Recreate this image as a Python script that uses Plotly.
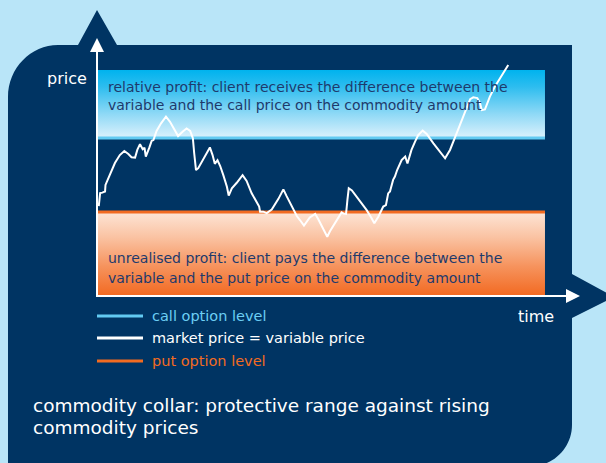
import plotly.graph_objects as go

W, H = 606, 463

# ---------------- data ----------------
time = [0.4, 0.7, 1.2, 1.8, 1.9, 2.9, 4.0, 5.1, 6.1, 7.0, 7.7, 8.5, 9.0, 9.6, 10.2, 10.6, 10.9, 11.7,
        12.2, 12.6, 13.3, 14.3, 15.4, 16.3, 17.4, 18.1, 19.1, 20.0, 20.8, 21.4, 21.7, 22.1, 22.6, 23.7,
        25.2, 25.8, 26.3, 26.9, 27.5, 28.2, 29.0, 29.4, 30.1, 31.2, 32.5, 33.4, 34.5, 35.6, 36.2, 36.4,
        37.1, 37.9, 39.0, 40.5, 41.6, 42.3, 43.5, 44.6, 45.3, 46.2, 47.5, 48.7, 49.4, 50.5, 51.4, 52.0,
        53.1, 53.9, 54.6, 55.0, 55.6, 55.9, 56.2, 56.9, 58.7, 60.2, 61.3, 61.9, 62.8, 63.9, 64.5, 65.0,
        65.4, 66.1, 66.5, 67.0, 68.0, 68.8, 69.3, 70.2, 71.0, 71.7, 72.7, 73.6, 75.1, 76.6, 77.7, 78.8,
        79.9, 81.0, 82.1, 83.3, 84.0, 84.9, 85.5, 85.9, 86.6, 87.7, 88.8, 90.0, 91.1, 91.8]
market_price = [91.6, 95.2, 95.3, 95.6, 97.4, 100.1, 103.4, 105.6, 106.7, 105.9, 105.0, 104.9, 107.0,
                108.6, 107.2, 107.6, 105.2, 107.7, 109.5, 109.7, 112.2, 114.3, 116.1, 114.7, 112.2,
                110.8, 112.0, 112.9, 112.2, 110.2, 106.1, 101.5, 102.0, 104.4, 107.7, 105.6, 103.2,
                104.2, 102.6, 100.1, 96.9, 94.5, 96.5, 98.0, 100.1, 98.5, 95.2, 92.8, 91.5, 90.1, 90.1,
                89.7, 90.7, 93.6, 96.2, 94.4, 91.5, 88.9, 87.8, 86.3, 88.5, 89.5, 88.0, 85.5, 83.2,
                84.7, 86.9, 88.7, 89.9, 89.6, 89.5, 93.3, 96.5, 95.9, 93.0, 90.5, 88.3, 86.9, 88.7,
                91.5, 91.9, 95.1, 95.6, 98.8, 99.7, 101.5, 104.2, 105.2, 103.3, 107.0, 109.3, 111.1,
                112.3, 111.4, 108.8, 106.5, 104.7, 107.0, 110.2, 113.8, 117.2, 120.9, 121.4, 121.2,
                119.8, 117.9, 118.1, 121.6, 124.3, 126.6, 128.9, 130.3]

call_level = 110.3
put_level = 90.0
zone_top = 128.9
price_floor = 67.1
period = [0, 100]

legend_labels = ["call option level", "market price = variable price", "put option level"]
call_zone_text = ["relative profit: client receives the difference between the",
                  "variable and the call price on the commodity amount"]
put_zone_text = ["unrealised profit: client pays the difference between the",
                 "variable and the put price on the commodity amount"]
footer_text = ["commodity collar: protective range against rising", "commodity prices"]
axis_labels = ["price", "time"]

# ---------------- styles ----------------
FONT = "DejaVu Sans"
BG = "#B9E5F8"
NAVY = "#003463"
TEXT_DARK = "#1E3A6C"
CALL_C = "#62CAF2"
PUT_C = "#F26B21"
WHITE = "#FFFFFF"


def pp(x, y):
    return f"{x / W:.5f},{1 - y / H:.5f}"


def path(cmds):
    out = []
    for c in cmds:
        if isinstance(c, str):
            out.append(c)
        else:
            out.append(pp(*c))
    return " ".join(out)


fig = go.Figure()

# zones (filled from data levels)
fig.add_trace(go.Scatter(
    x=[period[0], period[1], period[1], period[0], period[0]],
    y=[call_level, call_level, zone_top, zone_top, call_level],
    mode="none", fill="toself",
    fillgradient=dict(type="vertical",
                      colorscale=[[0, "#DCF1FC"], [0.35, "#8FD9F6"], [0.75, "#2EBDEF"], [1, "#00B3EE"]]),
    hoverinfo="skip", showlegend=False))
fig.add_trace(go.Scatter(
    x=[period[0], period[1], period[1], period[0], period[0]],
    y=[price_floor, price_floor, put_level, put_level, price_floor],
    mode="none", fill="toself",
    fillgradient=dict(type="vertical",
                      colorscale=[[0, "#F26A22"], [0.35, "#F6935D"], [0.7, "#FAC3A3"], [1, "#FDE5D6"]]),
    hoverinfo="skip", showlegend=False))
fig.add_trace(go.Scatter(x=period, y=[call_level, call_level], mode="lines",
                         line=dict(color=CALL_C, width=3), hoverinfo="skip", showlegend=False))
fig.add_trace(go.Scatter(x=period, y=[put_level, put_level], mode="lines",
                         line=dict(color=PUT_C, width=3), hoverinfo="skip", showlegend=False))
fig.add_trace(go.Scatter(x=time, y=market_price, mode="lines",
                         line=dict(color=WHITE, width=2), hoverinfo="skip", showlegend=False))

shapes = []
# navy backdrop
navy_path = path([
    "M", (8, 470), "L", (8, 97), "C", (8, 68), (31, 45), (58, 45),
    "L", (78, 45), "L", (97, 10), "L", (117, 45), "L", (572, 45), "L", (572, 274),
    "L", (614, 297), "L", (572, 318), "L", (572, 425), "C", (572, 447), (554, 466), (532, 466),
    "L", (532, 470), "Z"])
shapes.append(dict(type="path", path=navy_path, xref="paper", yref="paper",
                   fillcolor=NAVY, line=dict(width=0), layer="below"))
# axes
shapes.append(dict(type="line", xref="paper", yref="paper", x0=97 / W, x1=97 / W,
                   y0=1 - 296.5 / H, y1=1 - 50 / H, line=dict(color=WHITE, width=2), layer="above"))
shapes.append(dict(type="line", xref="paper", yref="paper", x0=96 / W, x1=568 / W,
                   y0=1 - 296 / H, y1=1 - 296 / H, line=dict(color=WHITE, width=2), layer="above"))
shapes.append(dict(type="path", xref="paper", yref="paper",
                   path=path(["M", (97, 38), "L", (104, 52), "L", (90, 52), "Z"]),
                   fillcolor=WHITE, line=dict(width=0), layer="above"))
shapes.append(dict(type="path", xref="paper", yref="paper",
                   path=path(["M", (580, 296), "L", (566, 289), "L", (566, 303), "Z"]),
                   fillcolor=WHITE, line=dict(width=0), layer="above"))
# legend keys
for yy, col in zip([316, 338, 361], [CALL_C, WHITE, PUT_C]):
    shapes.append(dict(type="line", xref="paper", yref="paper", x0=97 / W, x1=143 / W,
                       y0=1 - yy / H, y1=1 - yy / H, line=dict(color=col, width=3), layer="above"))

annotations = []


def txt(s, x, y, size, color):
    annotations.append(dict(text=s, x=x / W, y=1 - y / H, xref="paper", yref="paper",
                            xanchor="left", yanchor="middle", showarrow=False,
                            font=dict(family=FONT, size=size, color=color)))


txt(axis_labels[0], 45, 78, 16, WHITE)
txt(axis_labels[1], 516, 316, 16, WHITE)
txt(call_zone_text[0], 106, 87, 14, TEXT_DARK)
txt(call_zone_text[1], 106, 105, 14, TEXT_DARK)
txt(put_zone_text[0], 106, 258, 14, TEXT_DARK)
txt(put_zone_text[1], 106, 278, 14, TEXT_DARK)
for yy, lab, col in zip([316, 338, 361], legend_labels, ["#6CCEF4", WHITE, PUT_C]):
    txt(lab, 150, yy, 14.5, col)
txt(footer_text[0], 31, 405, 18.5, WHITE)
txt(footer_text[1], 31, 427, 18.5, WHITE)

fig.update_layout(
    width=W, height=H, autosize=False,
    margin=dict(l=0, r=0, t=0, b=0, pad=0),
    paper_bgcolor=BG, plot_bgcolor="rgba(0,0,0,0)",
    xaxis=dict(range=[-21.65, 113.62], visible=False, fixedrange=True),
    yaxis=dict(range=[21.23, 148.08], visible=False, fixedrange=True),
    shapes=shapes, annotations=annotations, showlegend=False,
)

fig.write_html("out.html", config={"displayModeBar": False},
               post_script="document.body.style.margin='0';document.body.style.overflow='hidden';")
